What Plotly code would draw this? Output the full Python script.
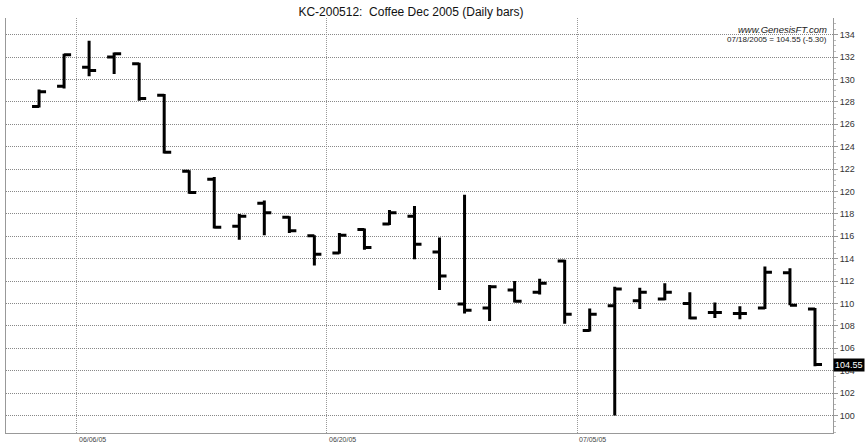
import plotly.graph_objects as go

# ---- data ----
dates = ["06/02/05", "06/03/05",
         "06/06/05", "06/07/05", "06/08/05", "06/09/05", "06/10/05",
         "06/13/05", "06/14/05", "06/15/05", "06/16/05", "06/17/05",
         "06/20/05", "06/21/05", "06/22/05", "06/23/05", "06/24/05",
         "06/27/05", "06/28/05", "06/29/05", "06/30/05", "07/01/05",
         "07/05/05", "07/06/05", "07/07/05", "07/08/05",
         "07/11/05", "07/12/05", "07/13/05", "07/14/05", "07/15/05",
         "07/18/05"]
opens = [127.6, 129.4, 131.1, 132.0, 131.4, 128.6, 121.8, 121.1, 116.9, 118.95,
         117.7, 116.05, 114.5, 116.6, 117.1, 117.8, 114.6, 109.95, 109.6, 111.2,
         111.0, 113.8, 107.6, 109.8, 110.25, 110.4, 110.0, 109.2, 109.1, 109.6,
         112.75, 109.5]
highs = [129.1, 132.3, 133.45, 132.4, 131.5, 128.7, 121.9, 121.3, 118.0, 119.2,
         117.8, 116.1, 116.3, 116.7, 118.35, 118.7, 115.9, 119.7, 111.65, 112.0,
         112.2, 113.9, 109.55, 111.5, 111.4, 111.8, 111.0, 110.1, 109.75, 113.3,
         113.15, 109.6]
lows = [127.5, 129.2, 130.3, 130.5, 128.1, 123.4, 119.8, 116.7, 115.7, 116.1,
        116.3, 113.4, 114.45, 114.8, 117.0, 113.95, 111.2, 109.1, 108.45, 110.1,
        110.8, 108.2, 107.5, 100.0, 109.5, 110.3, 108.6, 108.7, 108.6, 109.5,
        109.85, 104.4]
closes = [128.9, 132.2, 130.8, 132.3, 128.3, 123.5, 119.9, 116.8, 117.8, 118.1,
          116.5, 114.4, 116.1, 115.0, 118.1, 115.3, 112.45, 109.4, 111.5, 110.2,
          111.8, 109.05, 109.05, 111.3, 111.0, 111.0, 108.7, 109.2, 109.1, 112.8,
          109.85, 104.55]
x_tick_labels = ["06/06/05", "06/20/05", "07/05/05"]
y_ticks = list(range(100, 135, 2))
title_text = "KC-200512:\u00a0 Coffee Dec 2005 (Daily bars)"
site_text = "www.GenesisFT.com"
last_text = "07/18/2005 = 104.55 (-5.30)"

# ---- figure ----
idx = list(range(len(dates)))
fig = go.Figure(go.Ohlc(
    x=idx, open=opens, high=highs, low=lows, close=closes,
    text=dates, hoverinfo="text",
    tickwidth=0.28,
    increasing=dict(line=dict(color="black", width=3)),
    decreasing=dict(line=dict(color="black", width=3)),
    showlegend=False,
))

grid_pos = [dates.index(d) - 0.5 for d in x_tick_labels]

fig.update_layout(
    width=866, height=443,
    margin=dict(l=6, r=33, t=18, b=10),
    paper_bgcolor="white", plot_bgcolor="white",
    font=dict(family="Liberation Sans, Arial, sans-serif", color="#222"),
    title=dict(text=title_text, x=0.4746, xanchor="center",
               y=1 - 12 / 443, yanchor="middle",
               font=dict(size=12, color="#111")),
    xaxis=dict(
        range=[-1.32, 31.72], tickvals=grid_pos, ticktext=["", "", ""],
        showgrid=True, gridcolor="#999", griddash="1px,1px", gridwidth=1,
        showline=True, linecolor="#999", linewidth=1, mirror=False,
        ticks="", zeroline=False, rangeslider=dict(visible=False),
        fixedrange=True,
    ),
    yaxis=dict(
        side="right", range=[98.44, 135.49], tickvals=y_ticks,
        showgrid=True, gridcolor="#888", griddash="1px,1px", gridwidth=1,
        showline=True, linecolor="#999", linewidth=1, mirror=True,
        ticks="outside", ticklen=4, tickcolor="#999",
        minor=dict(dtick=0.5, ticks="outside", ticklen=2, tickcolor="#bbb",
                   showgrid=False),
        tickfont=dict(size=9, color="#333"), zeroline=False, fixedrange=True,
    ),
)

for lbl, pos in zip(x_tick_labels, grid_pos):
    fig.add_annotation(x=pos, xref="x", y=0, yref="paper", yshift=-1,
                       text=lbl, showarrow=False, xanchor="left",
                       yanchor="top", font=dict(size=7, color="#444"))

fig.add_annotation(x=829, xref="paper", y=1 - 12 / 443, yref="paper",
                   text="<i>" + site_text + "</i>", showarrow=False,
                   xanchor="right", yanchor="middle",
                   font=dict(size=9.5, color="#222"))
fig.add_annotation(x=829, xref="paper", y=1 - 23 / 443, yref="paper",
                   text=last_text, showarrow=False,
                   xanchor="right", yanchor="middle",
                   font=dict(size=8, color="#222"))
# convert pixel x positions to paper coords
for ann in fig.layout.annotations[-2:]:
    ann.x = (ann.x - 6) / (866 - 6 - 33)

fig.add_annotation(x=1, xref="paper", y=closes[-1], yref="y",
                   text=f"{closes[-1]:.2f}", showarrow=False,
                   xanchor="left", yanchor="middle", bgcolor="black",
                   borderpad=1, font=dict(size=9, color="white"))

fig.write_html("out.html", config=dict(displayModeBar=False),
               post_script="document.body.style.margin='0';")
